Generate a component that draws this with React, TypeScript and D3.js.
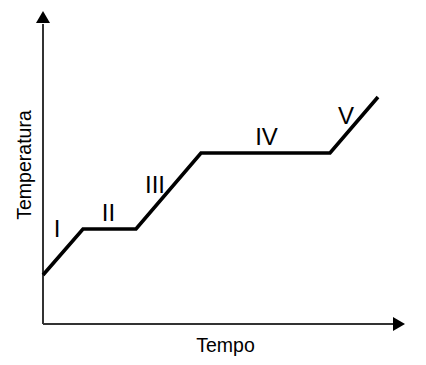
import React from "react";
import * as d3 from "d3";

const times = [0, 40, 93, 158, 287, 335];
const temps = [49, 95, 95, 171, 171, 227];
const phaseLabels = ["I", "II", "III", "IV", "V"];
const labelTimes = [14, 65.5, 112, 223.5, 303];
const labelTemps = [87, 103, 131, 179, 200];
const xTitle = "Tempo";
const yTitle = "Temperatura";

export default function App() {
  const W = 426, H = 365;
  const x = d3.scaleLinear().domain([0, 362]).range([43, 405]);
  const y = d3.scaleLinear().domain([0, 312]).range([324, 12]);
  const pts: [number, number][] = times.map((t, i) => [t, temps[i]]);
  const line = d3.line<[number, number]>().x(d => x(d[0])).y(d => y(d[1]));
  const ox = x(0), oy = y(0);
  const font = "Liberation Sans, Arial, Helvetica, sans-serif";
  return (
    <svg width={W} height={H} style={{ position: "absolute", left: 0, top: 0, background: "#fff" }}>
      {/* axes */}
      <line x1={ox} y1={oy} x2={x(352)} y2={oy} stroke="#333" strokeWidth={2} />
      <line x1={ox} y1={oy} x2={ox} y2={y(300)} stroke="#333" strokeWidth={2} />
      <path d={`M${x(362)},${oy} L${x(350)},${oy - 7} L${x(350)},${oy + 7} Z`} fill="#000" />
      <path d={`M${ox},${y(313)} L${ox - 7},${y(301)} L${ox + 7},${y(301)} Z`} fill="#000" />
      <path d={line(pts) || ""} fill="none" stroke="#000" strokeWidth={3.6} strokeLinejoin="miter" />
      {phaseLabels.map((l, i) => (
        <text key={l} x={x(labelTimes[i])} y={y(labelTemps[i])} textAnchor="middle"
          fontFamily={font} fontSize={24} fill="#000">{l}</text>
      ))}
      <text x={225.5} y={351.5} textAnchor="middle" fontFamily={font} fontSize={19.5} fill="#000">{xTitle}</text>
      <text transform="translate(31,165) rotate(-90)" textAnchor="middle" fontFamily={font} fontSize={19.5} fill="#000">{yTitle}</text>
    </svg>
  );
}
